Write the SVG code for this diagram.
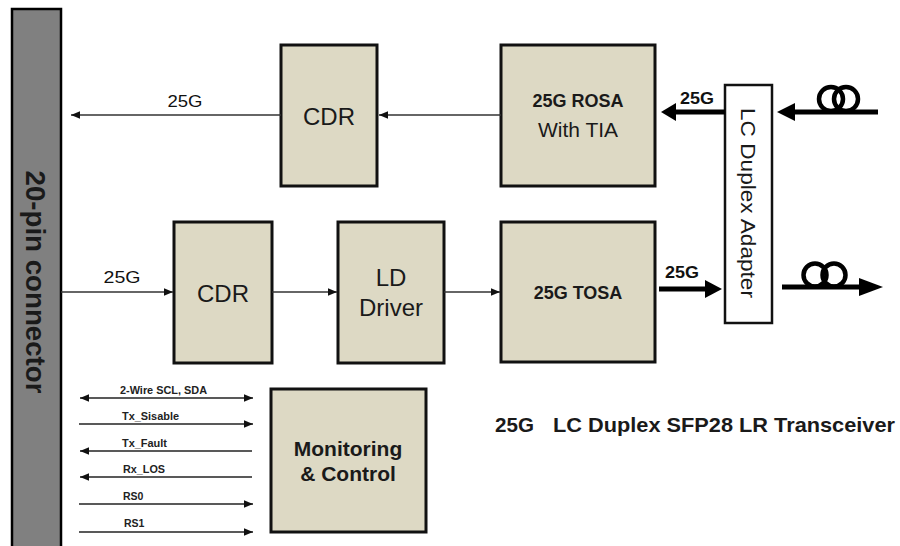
<svg xmlns="http://www.w3.org/2000/svg" width="900" height="546" viewBox="0 0 900 546">
<style>
.box{fill:#ddd9c4;stroke:#111;stroke-width:3}
.thin{stroke:#333;stroke-width:1.4;fill:none}
.ctl{stroke:#222;stroke-width:1.6;fill:none}
.thick{stroke:#000;stroke-width:5;fill:none}
.coil{stroke:#000;stroke-width:4.5;fill:none}
.t{font-family:"Liberation Sans",Arial,sans-serif;fill:#1a1a1a}
.lbl{font-family:"Liberation Sans",Arial,sans-serif;font-size:16px;fill:#111}
.sm{font-family:"Liberation Sans",Arial,sans-serif;font-size:10.5px;font-weight:bold;fill:#222}
</style>
<defs>
<marker id="ah" markerUnits="userSpaceOnUse" markerWidth="10" markerHeight="10" refX="9" refY="5" orient="auto">
<path d="M0,1.2 L9,5 L0,8.8 Z" fill="#111"/>
</marker>
<marker id="ahs" markerUnits="userSpaceOnUse" markerWidth="10" markerHeight="10" refX="9" refY="5" orient="auto-start-reverse">
<path d="M0,1.2 L9,5 L0,8.8 Z" fill="#111"/>
</marker>
</defs>
<rect width="900" height="546" fill="#fff"/>

<g id="connector">
<rect x="12" y="9" width="49" height="545" fill="#808080" stroke="#000" stroke-width="2.5"/>
<text class="t" transform="translate(26,282) rotate(90)" text-anchor="middle" font-size="27" font-weight="bold" textLength="223" lengthAdjust="spacingAndGlyphs">20-pin connector</text>
</g>

<g id="cdr-rx">
<rect class="box" x="281" y="45" width="96" height="141"/>
<text class="t" x="329" y="125" text-anchor="middle" font-size="24">CDR</text>
</g>
<g id="rosa">
<rect class="box" x="501" y="45" width="154" height="141"/>
<text class="t" x="578" y="107" text-anchor="middle" font-size="18" font-weight="bold">25G ROSA</text>
<text class="t" x="578" y="137" text-anchor="middle" font-size="21">With TIA</text>
</g>
<g id="cdr-tx">
<rect class="box" x="174" y="222" width="98" height="141"/>
<text class="t" x="223" y="302" text-anchor="middle" font-size="24">CDR</text>
</g>
<g id="ld-driver">
<rect class="box" x="338" y="222" width="106" height="141"/>
<text class="t" x="391" y="286" text-anchor="middle" font-size="24">LD</text>
<text class="t" x="391" y="316" text-anchor="middle" font-size="24">Driver</text>
</g>
<g id="tosa">
<rect class="box" x="501" y="222" width="154" height="140"/>
<text class="t" x="578" y="299" text-anchor="middle" font-size="18" font-weight="bold">25G TOSA</text>
</g>
<g id="lc-adapter">
<rect x="725" y="85" width="47" height="238" fill="#fff" stroke="#111" stroke-width="2.5"/>
<text class="t" transform="translate(741,203) rotate(90)" text-anchor="middle" font-size="20" textLength="190" lengthAdjust="spacingAndGlyphs">LC Duplex  Adapter</text>
</g>
<g id="monitoring">
<rect class="box" x="271" y="389" width="155" height="143"/>
<text class="t" x="348" y="456" text-anchor="middle" font-size="21" font-weight="bold">Monitoring</text>
<text class="t" x="348" y="481" text-anchor="middle" font-size="21" font-weight="bold">&amp; Control</text>
</g>
<g id="fiber-in">
<circle class="coil" cx="831" cy="99" r="12"/>
<circle class="coil" cx="846" cy="99" r="12"/>
</g>
<g id="fiber-out">
<circle class="coil" cx="815" cy="275" r="11.5"/>
<circle class="coil" cx="834" cy="275" r="11.5"/>
</g>

<g id="connectors">
<line class="thin" x1="281" y1="115" x2="71" y2="115" marker-end="url(#ah)"/>
<line class="thin" x1="501" y1="115" x2="379" y2="115" marker-end="url(#ah)"/>
<line class="thin" x1="61" y1="292" x2="173" y2="292" marker-end="url(#ah)"/>
<line class="thin" x1="272" y1="292" x2="337" y2="292" marker-end="url(#ah)"/>
<line class="thin" x1="444" y1="292" x2="500" y2="292" marker-end="url(#ah)"/>

<line class="thick" x1="725" y1="112" x2="674" y2="112"/>
<path d="M676,103 L661,112 L676,121 Z" fill="#000"/>
<line class="thick" x1="878" y1="112" x2="792" y2="112"/>
<path d="M795,103 L777,112 L795,121 Z" fill="#000"/>
<line class="thick" x1="659" y1="289" x2="708" y2="289"/>
<path d="M705,280 L722,289 L705,298 Z" fill="#000"/>
<line class="thick" x1="782" y1="287" x2="862" y2="287"/>
<path d="M859,278 L883,287 L859,296 Z" fill="#000"/>

<line class="ctl" x1="80" y1="398" x2="253" y2="398" marker-start="url(#ahs)" marker-end="url(#ahs)"/>
<line class="ctl" x1="79" y1="424" x2="253" y2="424" marker-end="url(#ah)"/>
<line class="ctl" x1="252" y1="451" x2="80" y2="451" marker-end="url(#ah)"/>
<line class="ctl" x1="252" y1="477" x2="80" y2="477" marker-end="url(#ah)"/>
<line class="ctl" x1="79" y1="504" x2="253" y2="504" marker-end="url(#ah)"/>
<line class="ctl" x1="79" y1="532" x2="253" y2="532" marker-end="url(#ah)"/>
</g>

<g id="labels">
<text class="lbl" x="185" y="107" text-anchor="middle" textLength="35" lengthAdjust="spacingAndGlyphs">25G</text>
<text class="lbl" x="122" y="283" text-anchor="middle" textLength="37" lengthAdjust="spacingAndGlyphs">25G</text>
<text class="lbl" x="697" y="104" text-anchor="middle" font-weight="bold" textLength="34" lengthAdjust="spacingAndGlyphs">25G</text>
<text class="lbl" x="682" y="278" text-anchor="middle" font-weight="bold" textLength="34" lengthAdjust="spacingAndGlyphs">25G</text>
<text class="sm" x="120" y="394" textLength="87" lengthAdjust="spacingAndGlyphs">2-Wire SCL, SDA</text>
<text class="sm" x="122" y="420" textLength="57" lengthAdjust="spacingAndGlyphs">Tx_Sisable</text>
<text class="sm" x="122" y="447" textLength="45" lengthAdjust="spacingAndGlyphs">Tx_Fault</text>
<text class="sm" x="123" y="473" textLength="42" lengthAdjust="spacingAndGlyphs">Rx_LOS</text>
<text class="sm" x="123" y="500">RS0</text>
<text class="sm" x="124" y="527">RS1</text>
<text class="t" x="495" y="432" font-size="21" font-weight="bold" textLength="39" lengthAdjust="spacingAndGlyphs">25G</text>
<text class="t" x="553" y="432" font-size="21" font-weight="bold" textLength="342" lengthAdjust="spacingAndGlyphs">LC Duplex SFP28 LR Transceiver</text>
</g>
</svg>
